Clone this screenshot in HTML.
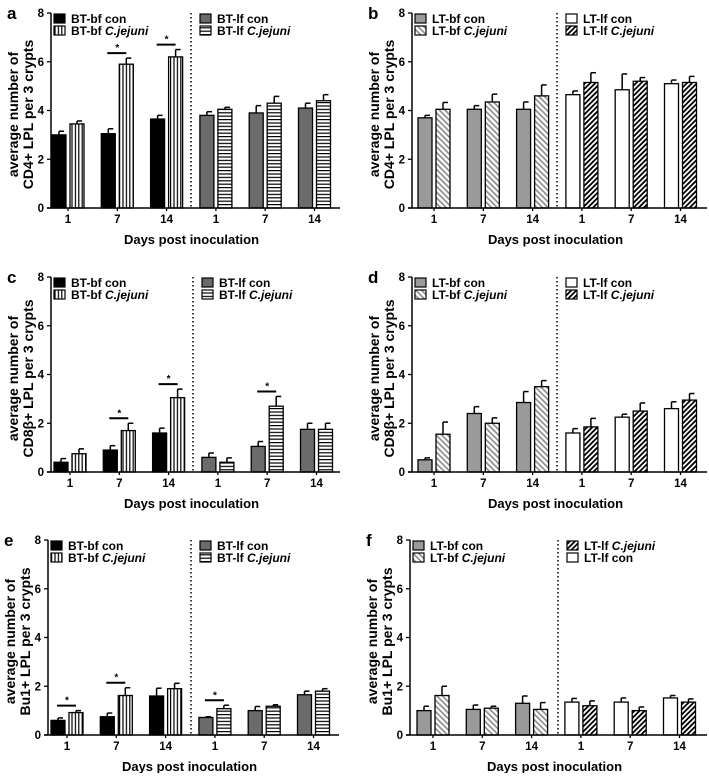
<!DOCTYPE html>
<html><head><meta charset="utf-8"><style>
html,body{margin:0;padding:0;background:#fff;}
svg text{font-family:"Liberation Sans",Arial,sans-serif;font-weight:bold;fill:#000;}
</style></head><body>
<svg id="fig" width="709" height="773" viewBox="0 0 709 773" xmlns="http://www.w3.org/2000/svg">
<defs>
<pattern id="pv" patternUnits="userSpaceOnUse" width="3.4" height="4"><rect width="3.4" height="4" fill="#fff"/><rect x="0" width="1.2" height="4" fill="#000"/></pattern>
<pattern id="ph" patternUnits="userSpaceOnUse" width="4" height="3.4"><rect width="4" height="3.4" fill="#fff"/><rect y="0" width="4" height="1.2" fill="#000"/></pattern>
<pattern id="pl" patternUnits="userSpaceOnUse" width="4" height="4" patternTransform="rotate(-45)"><rect width="4" height="4" fill="#fff"/><rect width="1.6" height="4" fill="#8a8a8a"/></pattern>
<pattern id="pd" patternUnits="userSpaceOnUse" width="3.6" height="4" patternTransform="rotate(45)"><rect width="3.6" height="4" fill="#fff"/><rect width="1.8" height="4" fill="#000"/></pattern>
</defs>
</svg>
<script>
// ---- data (days 1,7,14 per series) ----
const days = ["1","7","14"];
const yTicks = [0,2,4,6,8];
const aBfCon=[3.0,3.05,3.65], aBfConErr=[0.15,0.2,0.15];
const aBfCj=[3.45,5.9,6.2], aBfCjErr=[0.12,0.25,0.3];
const aLfCon=[3.8,3.9,4.1], aLfConErr=[0.15,0.3,0.2];
const aLfCj=[4.05,4.3,4.4], aLfCjErr=[0.08,0.28,0.25];
const bBfCon=[3.7,4.05,4.05], bBfConErr=[0.1,0.15,0.3];
const bBfCj=[4.05,4.35,4.6], bBfCjErr=[0.28,0.32,0.45];
const bLfCon=[4.65,4.85,5.1], bLfConErr=[0.15,0.65,0.15];
const bLfCj=[5.15,5.2,5.15], bLfCjErr=[0.4,0.15,0.25];
const cBfCon=[0.4,0.9,1.6], cBfConErr=[0.15,0.18,0.2];
const cBfCj=[0.75,1.7,3.05], cBfCjErr=[0.2,0.3,0.35];
const cLfCon=[0.6,1.05,1.75], cLfConErr=[0.18,0.2,0.25];
const cLfCj=[0.4,2.7,1.75], cLfCjErr=[0.18,0.4,0.25];
const dBfCon=[0.5,2.4,2.85], dBfConErr=[0.08,0.28,0.45];
const dBfCj=[1.55,2.0,3.5], dBfCjErr=[0.5,0.22,0.25];
const dLfCon=[1.6,2.25,2.6], dLfConErr=[0.18,0.12,0.28];
const dLfCj=[1.85,2.5,2.95], dLfCjErr=[0.35,0.33,0.27];
const eBfCon=[0.6,0.75,1.6], eBfConErr=[0.1,0.15,0.32];
const eBfCj=[0.92,1.62,1.9], eBfCjErr=[0.08,0.32,0.22];
const eLfCon=[0.72,1.0,1.65], eLfConErr=[0.03,0.17,0.15];
const eLfCj=[1.08,1.18,1.8], eLfCjErr=[0.14,0.06,0.1];
const fBfCon=[1.0,1.05,1.3], fBfConErr=[0.18,0.18,0.3];
const fBfCj=[1.62,1.1,1.05], fBfCjErr=[0.38,0.08,0.28];
const fLfCon=[1.35,1.35,1.52], fLfConErr=[0.15,0.17,0.1];
const fLfCj=[1.2,1.0,1.35], fLfCjErr=[0.2,0.15,0.13];
const aStars=[false,true,true,false,false,false];
const cStars=[false,true,true,false,true,false];
const eStars=[true,true,false,true,false,false];
const noStars=[false,false,false,false,false,false];

const NS="http://www.w3.org/2000/svg";
const svg=document.getElementById('fig');
function el(tag,attrs,parent,txt){const e=document.createElementNS(NS,tag);for(const k in attrs)e.setAttribute(k,attrs[k]);if(txt!==undefined)e.textContent=txt;(parent||svg).appendChild(e);return e;}

const F={bk:{fill:"#000"},dg:{fill:"#6b6b6b"},vs:{fill:"url(#pv)"},hs:{fill:"url(#ph)"},lg:{fill:"#9a9a9a"},ld:{fill:"url(#pl)"},wh:{fill:"#fff"},dd:{fill:"url(#pd)"}};

const panels=[
 {id:"a",ax:51,right:340,top:13,bot:208,off:17,dot:140,ytitle:"CD4+ LPL per 3 crypts",
  s:[[aBfCon,aBfConErr,"bk"],[aBfCj,aBfCjErr,"vs"],[aLfCon,aLfConErr,"dg"],[aLfCj,aLfCjErr,"hs"]],
  leg:[["bk","BT-bf con"],["vs","BT-bf ","C.jejuni"]],leg2:[["dg","BT-lf con"],["hs","BT-lf ","C.jejuni"]],stars:aStars},
 {id:"b",ax:412,right:707,top:13,bot:208,off:22,dot:145,ytitle:"CD4+ LPL per 3 crypts",
  s:[[bBfCon,bBfConErr,"lg"],[bBfCj,bBfCjErr,"ld"],[bLfCon,bLfConErr,"wh"],[bLfCj,bLfCjErr,"dd"]],
  leg:[["lg","LT-bf con"],["ld","LT-bf ","C.jejuni"]],leg2:[["wh","LT-lf con"],["dd","LT-lf ","C.jejuni"]],stars:noStars},
 {id:"c",ax:51,right:340,top:277,bot:472,off:19,dot:142,ytitle:"CD8β+ LPL per 3 crypts",
  s:[[cBfCon,cBfConErr,"bk"],[cBfCj,cBfCjErr,"vs"],[cLfCon,cLfConErr,"dg"],[cLfCj,cLfCjErr,"hs"]],
  leg:[["bk","BT-bf con"],["vs","BT-bf ","C.jejuni"]],leg2:[["dg","BT-lf con"],["hs","BT-lf ","C.jejuni"]],stars:cStars},
 {id:"d",ax:412,right:707,top:277,bot:472,off:22,dot:145,ytitle:"CD8β+ LPL per 3 crypts",
  s:[[dBfCon,dBfConErr,"lg"],[dBfCj,dBfCjErr,"ld"],[dLfCon,dLfConErr,"wh"],[dLfCj,dLfCjErr,"dd"]],
  leg:[["lg","LT-bf con"],["ld","LT-bf ","C.jejuni"]],leg2:[["wh","LT-lf con"],["dd","LT-lf ","C.jejuni"]],stars:noStars},
 {id:"e",ax:48,right:339,top:540,bot:735,off:19,dot:143,ytitle:"Bu1+ LPL per 3 crypts",
  s:[[eBfCon,eBfConErr,"bk"],[eBfCj,eBfCjErr,"vs"],[eLfCon,eLfConErr,"dg"],[eLfCj,eLfCjErr,"hs"]],
  leg:[["bk","BT-bf con"],["vs","BT-bf ","C.jejuni"]],leg2:[["dg","BT-lf con"],["hs","BT-lf ","C.jejuni"]],stars:eStars},
 {id:"f",ax:410,right:707,top:540,bot:735,off:23,dot:148,ytitle:"Bu1+ LPL per 3 crypts",
  s:[[fBfCon,fBfConErr,"lg"],[fBfCj,fBfCjErr,"ld"],[fLfCon,fLfConErr,"wh"],[fLfCj,fLfCjErr,"dd"]],
  leg:[["lg","LT-bf con"],["ld","LT-bf ","C.jejuni"]],leg2:[["dd","LT-lf ","C.jejuni"],["wh","LT-lf con"]],stars:noStars}
];

panels.forEach(p=>{
  const g=el('g',{});
  
  
  const y=v=>p.bot-(v/8)*(p.bot-p.top);
  const step=49.3;
  const cx=i=>p.ax+p.off+i*step;
  const L=el('text',{x:p.ax-44,y:p.top+6,'font-size':17},g,p.id);
  
  
  const ymid=(p.top+p.bot)/2+4;
  const yt=el('text',{transform:`translate(${p.ax-33},${ymid}) rotate(-90)`,'text-anchor':'middle','font-size':14},g);
  
  
  el('tspan',{x:0,y:0},yt,'average number of');
  el('tspan',{x:0,y:15},yt,p.ytitle);
  for(let i=0;i<6;i++){
    const side=i<3?0:2, d=i%3;
    [0,1].forEach(k=>{
      const [vals,errs,fk]=p.s[side+k];
      const v=vals[d], e=errs[d];
      const x=cx(i)+(k===0?-16:2);
      const bx=x+7;
      const el1=el('line',{x1:bx,x2:bx,y1:y(v),y2:y(v+e),stroke:'#000','stroke-width':1.5},g);
      
      
      el('line',{x1:bx,x2:bx+5,y1:y(v+e),y2:y(v+e),stroke:'#000','stroke-width':1.5},g);
      const r=el('rect',{x:x,y:y(v),width:14,height:p.bot-y(v),fill:F[fk].fill,stroke:'#000','stroke-width':1.3},g);
      
      
    });
    if(p.stars[i]){
      const v1=p.s[side][0][d]+p.s[side][1][d], v2=p.s[side+1][0][d]+p.s[side+1][1][d];
      const ly=y(Math.max(v1,v2))-5;
      el('line',{x1:cx(i)-10,x2:cx(i)+9,y1:ly,y2:ly,stroke:'#000','stroke-width':2},g);
      const st=el('text',{x:cx(i),y:ly-2,'text-anchor':'middle','font-size':10,'font-weight':'normal'},g,'*');
      
      
    }
    const tl=el('text',{x:cx(i),y:p.bot+15,'text-anchor':'middle','font-size':11.5},g,days[i%3]);
    
    
    el('line',{x1:cx(i),x2:cx(i),y1:p.bot,y2:p.bot+3,stroke:'#000','stroke-width':1.3},g);
  }
  const ya=el('line',{x1:p.ax,x2:p.ax,y1:p.top,y2:p.bot,stroke:'#000','stroke-width':1.5},g);
  
  
  const xa=el('line',{x1:p.ax-4,x2:p.right,y1:p.bot,y2:p.bot,stroke:'#000','stroke-width':1.5},g);
  
  
  yTicks.forEach(t=>{
    el('line',{x1:p.ax-4,x2:p.ax,y1:y(t),y2:y(t),stroke:'#000','stroke-width':1.3},g);
    const tt=el('text',{x:p.ax-7,y:y(t)+4,'text-anchor':'end','font-size':11.5},g,String(t));
    
    
  });
  const dl=el('line',{x1:p.ax+p.dot,x2:p.ax+p.dot,y1:p.top,y2:p.bot,stroke:'#000','stroke-width':1.5,'stroke-dasharray':'1.5,2.5'},g);
  
  
  [[p.leg,p.ax+3],[p.leg2,p.ax+p.dot+9]].forEach(([items,lx])=>{
    items.forEach((it,j)=>{
      const ly=p.top+1+j*12;
      el('rect',{x:lx,y:ly,width:11,height:9,fill:F[it[0]].fill,stroke:'#000','stroke-width':1.2},g);
      const t=el('text',{x:lx+17,y:ly+9,'font-size':12},g,it[1]);
      
      
      if(it[2]) el('tspan',{'font-style':'italic'},t,it[2]);
    });
  });
  const xt=el('text',{x:(p.ax+p.right)/2-4,y:p.bot+36,'text-anchor':'middle','font-size':13},g,'Days post inoculation');
  
  
});
</script>
</body></html>
